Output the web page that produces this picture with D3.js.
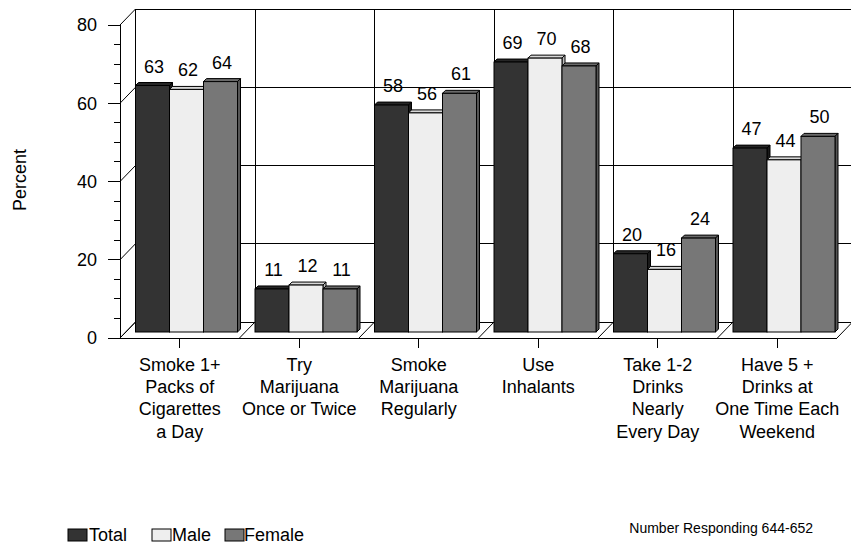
<!DOCTYPE html>
<html>
<head>
<meta charset="utf-8">
<script src="https://cdn.jsdelivr.net/npm/d3@7/dist/d3.min.js"></script>
<style>
  html, body { margin: 0; padding: 0; background: #fff; }
  svg { display: block; font-family: "Liberation Sans", Arial, sans-serif; }
</style>
</head>
<body>
<svg id="chart" width="851" height="548"></svg>
<script>
// ---- data ----
const categories = [
  ["Smoke 1+", "Packs of", "Cigarettes", "a Day"],
  ["Try", "Marijuana", "Once or Twice"],
  ["Smoke", "Marijuana", "Regularly"],
  ["Use", "Inhalants"],
  ["Take 1-2", "Drinks", "Nearly", "Every Day"],
  ["Have 5 +", "Drinks at", "One Time Each", "Weekend"]
];
const seriesNames = ["Total", "Male", "Female"];
const totalValues = [63, 11, 58, 69, 20, 47];
const maleValues = [62, 12, 56, 70, 16, 44];
const femaleValues = [64, 11, 61, 68, 24, 50];
const yTicks = [0, 20, 40, 60, 80];
const noteText = "Number Responding 644-652";
const axisTitle = "Percent";

// ---- styles ----
const fills = {
  Total:  {front: "#333333", top: "#262626", side: "#1a1a1a"},
  Male:   {front: "#eeeeee", top: "#d8d8d8", side: "#bdbdbd"},
  Female: {front: "#777777", top: "#6a6a6a", side: "#555555"}
};
const seriesValues = [totalValues, maleValues, femaleValues];

const svg = d3.select("#chart");
const FS = 18;
const depthX = 15.5, depthY = -16;   // wall depth
const barDY = -6;                     // bar placement depth
const bD = 3;                         // bar thickness

const x = d3.scaleBand().domain(d3.range(categories.length)).range([120, 837]).padding(0);
const y = d3.scaleLinear().domain([0, 80]).range([338, 25]);
const xs = d3.scaleBand().domain(seriesNames).range([0, 102]).padding(0);

const g = svg.append("g");
const line = (x1, y1, x2, y2, c = "#000") =>
  g.append("line").attr("x1", x1).attr("y1", y1).attr("x2", x2).attr("y2", y2)
   .attr("stroke", c).attr("stroke-width", 1).attr("shape-rendering", "crispEdges");

const x0 = x.range()[0], x1 = x.range()[1];
const y0 = y(0), yTop = y(80);

// back wall gridlines (horizontal)
yTicks.forEach(t => {
  line(x0 + depthX, y(t) + depthY, x1 + depthX, y(t) + depthY);
  // left wall diagonals
  g.append("line").attr("x1", x0).attr("y1", y(t)).attr("x2", x0 + depthX).attr("y2", y(t) + depthY)
    .attr("stroke", "#000");
});
// back wall verticals
d3.range(categories.length + 1).forEach(i => {
  const bx = (i < categories.length ? x(i) : x1) + depthX;
  line(bx, yTop + depthY, bx, y0 + depthY);
  // floor diagonals
  const fx = (i < categories.length ? x(i) : x1);
  g.append("line").attr("x1", fx).attr("y1", y0).attr("x2", fx + depthX).attr("y2", y0 + depthY)
    .attr("stroke", "#000");
});
// left axis + front floor edge
line(x0, yTop, x0, y0);
line(x0, y0, x1, y0);

// y ticks: minor every 5, major every 20
d3.range(0, 81, 5).forEach(t => {
  const major = t % 20 === 0;
  line(x0 - (major ? 12 : 6), y(t), x0, y(t));
});
g.selectAll("text.ytick").data(yTicks).join("text")
  .attr("class", "ytick")
  .attr("x", 97).attr("y", d => y(d)).attr("dy", "0.35em")
  .attr("text-anchor", "end").attr("font-size", FS).text(d => d);

// x ticks
d3.range(categories.length).forEach(i => {
  const cx = x(i) + x.bandwidth() / 2;
  line(cx, y0, cx, y0 + 10);
});

// bars
const barsG = svg.append("g");
categories.forEach((c, i) => {
  seriesNames.forEach((s, k) => {
    const v = seriesValues[k][i];
    const bx = x(i) + 15.5 + xs(s);
    const bw = xs.bandwidth();
    const by = y(v) + barDY;
    const bb = y0 + barDY;
    const f = fills[s];
    // top face
    barsG.append("path")
      .attr("d", `M${bx},${by} L${bx + bD},${by - bD} L${bx + bw + bD},${by - bD} L${bx + bw},${by} Z`)
      .attr("fill", f.top).attr("stroke", "#000").attr("stroke-width", 1).attr("stroke-linejoin", "round");
    // side face
    barsG.append("path")
      .attr("d", `M${bx + bw},${by} L${bx + bw + bD},${by - bD} L${bx + bw + bD},${bb - bD} L${bx + bw},${bb} Z`)
      .attr("fill", f.side).attr("stroke", "#000").attr("stroke-width", 1).attr("stroke-linejoin", "round");
    // front face
    barsG.append("rect")
      .attr("x", bx).attr("y", by).attr("width", bw).attr("height", bb - by)
      .attr("fill", f.front).attr("stroke", "#000").attr("stroke-width", 1);
    // value label
    barsG.append("text")
      .attr("x", bx + bw / 2 + 1.5).attr("y", by - bD - 10)
      .attr("text-anchor", "middle").attr("font-size", FS).text(v);
  });
});

// category labels
categories.forEach((lines, i) => {
  const cx = x(i) + x.bandwidth() / 2;
  const t = svg.append("text").attr("text-anchor", "middle").attr("font-size", FS);
  lines.forEach((l, j) => {
    t.append("tspan").attr("x", cx).attr("y", 371 + j * 22.2).text(l);
  });
});

// axis title
svg.append("text").attr("transform", "translate(26,180) rotate(-90)")
  .attr("text-anchor", "middle").attr("font-size", FS).text(axisTitle);

// legend
const legendItems = [
  {name: "Total", box: 68, tx: 89},
  {name: "Male", box: 152, tx: 172},
  {name: "Female", box: 225, tx: 244}
];
const lg = svg.append("g");
legendItems.forEach(d => {
  lg.append("rect").attr("x", d.box).attr("y", 529).attr("width", 19).attr("height", 12)
    .attr("fill", fills[d.name].front).attr("stroke", "#000").attr("stroke-width", 1);
  lg.append("text").attr("x", d.tx).attr("y", 541).attr("font-size", FS).text(d.name);
});

// note
svg.append("text").attr("x", 813).attr("y", 533).attr("text-anchor", "end")
  .attr("font-size", 14).text(noteText);
</script>
</body>
</html>
